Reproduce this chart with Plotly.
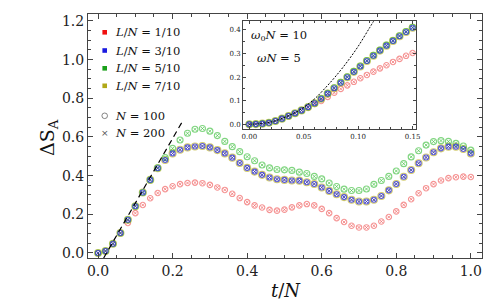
import plotly.graph_objects as go

# ---------------- data ----------------
t_main = [0.00, 0.02, 0.04, 0.06, 0.08, 0.10, 0.12, 0.14, 0.16, 0.18,
          0.20, 0.22, 0.24, 0.26, 0.28, 0.30, 0.32, 0.34, 0.36, 0.38,
          0.40, 0.42, 0.44, 0.46, 0.48, 0.50, 0.52, 0.54, 0.56, 0.58,
          0.60, 0.62, 0.64, 0.66, 0.68, 0.70, 0.72, 0.74, 0.76, 0.78,
          0.80, 0.82, 0.84, 0.86, 0.88, 0.90, 0.92, 0.94, 0.96, 0.98, 1.00]

s_L1 = [0.000, 0.010, 0.048, 0.103, 0.155, 0.206, 0.248, 0.283, 0.310, 0.330,
        0.345, 0.356, 0.362, 0.364, 0.361, 0.352, 0.339, 0.326, 0.306, 0.284,
        0.263, 0.246, 0.235, 0.223, 0.219, 0.224, 0.236, 0.246, 0.253, 0.246,
        0.228, 0.206, 0.180, 0.160, 0.141, 0.132, 0.132, 0.141, 0.163, 0.186,
        0.215, 0.249, 0.278, 0.309, 0.335, 0.356, 0.375, 0.387, 0.392, 0.395, 0.393]

s_L3 = [0.000, 0.010, 0.048, 0.103, 0.172, 0.242, 0.313, 0.378, 0.438, 0.481,
        0.515, 0.534, 0.546, 0.551, 0.553, 0.546, 0.532, 0.515, 0.493, 0.465,
        0.440, 0.421, 0.404, 0.390, 0.381, 0.378, 0.375, 0.374, 0.366, 0.357,
        0.339, 0.321, 0.304, 0.289, 0.275, 0.266, 0.266, 0.275, 0.295, 0.324,
        0.357, 0.394, 0.429, 0.464, 0.494, 0.521, 0.541, 0.550, 0.550, 0.538, 0.515]

s_L5 = [0.000, 0.010, 0.048, 0.103, 0.172, 0.242, 0.313, 0.378, 0.440, 0.493,
        0.541, 0.584, 0.619, 0.640, 0.644, 0.630, 0.607, 0.577, 0.550, 0.524,
        0.498, 0.477, 0.455, 0.440, 0.432, 0.430, 0.427, 0.418, 0.411, 0.396,
        0.383, 0.362, 0.344, 0.330, 0.323, 0.323, 0.331, 0.355, 0.375, 0.396,
        0.424, 0.462, 0.497, 0.529, 0.558, 0.576, 0.581, 0.577, 0.567, 0.553, 0.532]

s_L7 = [0.000, 0.010, 0.048, 0.103, 0.172, 0.242, 0.313, 0.378, 0.438, 0.481,
        0.515, 0.534, 0.546, 0.551, 0.553, 0.546, 0.532, 0.515, 0.493, 0.465,
        0.440, 0.421, 0.404, 0.390, 0.381, 0.378, 0.375, 0.374, 0.366, 0.357,
        0.339, 0.321, 0.304, 0.289, 0.275, 0.266, 0.266, 0.275, 0.295, 0.324,
        0.357, 0.394, 0.429, 0.464, 0.494, 0.521, 0.541, 0.550, 0.550, 0.538, 0.515]

# linear short-time reference line (main panel)
line_t = [0.015, 0.228]
line_s = [-0.026, 0.686]

# inset data
t_in = [0.000, 0.006, 0.012, 0.018, 0.024, 0.030, 0.036, 0.042, 0.048, 0.054,
        0.060, 0.066, 0.072, 0.078, 0.084, 0.090, 0.096, 0.102, 0.108, 0.114,
        0.120, 0.126, 0.132, 0.138, 0.144, 0.150]
in_L1 = [0.000, 0.001, 0.003, 0.007, 0.014, 0.024, 0.035, 0.046, 0.058, 0.071,
         0.086, 0.099, 0.116, 0.134, 0.150, 0.165, 0.180, 0.195, 0.209, 0.223,
         0.237, 0.250, 0.264, 0.277, 0.290, 0.302]
in_L3 = [0.000, 0.001, 0.003, 0.007, 0.014, 0.024, 0.035, 0.047, 0.059, 0.073,
         0.089, 0.108, 0.130, 0.153, 0.176, 0.199, 0.222, 0.245, 0.268, 0.290,
         0.312, 0.333, 0.353, 0.373, 0.391, 0.409]
in_L5 = [0.000, 0.001, 0.003, 0.007, 0.014, 0.024, 0.035, 0.047, 0.059, 0.073,
         0.089, 0.109, 0.131, 0.155, 0.178, 0.201, 0.224, 0.247, 0.270, 0.292,
         0.314, 0.335, 0.355, 0.375, 0.393, 0.411]
in_L7 = [0.000, 0.001, 0.003, 0.007, 0.014, 0.024, 0.035, 0.047, 0.059, 0.073,
         0.089, 0.108, 0.130, 0.153, 0.176, 0.199, 0.222, 0.245, 0.268, 0.290,
         0.312, 0.333, 0.353, 0.373, 0.391, 0.409]

# short-time reference curve (inset)
curve_t = [0.000, 0.020, 0.040, 0.050, 0.060, 0.070, 0.080, 0.090, 0.100, 0.110, 0.116]
curve_s = [0.000, 0.010, 0.045, 0.072, 0.108, 0.155, 0.207, 0.265, 0.330, 0.405, 0.450]

legend_labels = ["1/10", "3/10", "5/10", "7/10"]
n_labels = ["100", "200"]
tick_main_x = [0.0, 0.2, 0.4, 0.6, 0.8, 1.0]
tick_main_y = [0.0, 0.2, 0.4, 0.6, 0.8, 1.0, 1.2]
tick_in_x = [0.00, 0.05, 0.10, 0.15]
tick_in_y = [0.0, 0.1, 0.2, 0.3, 0.4]

# ---------------- styling ----------------
ring_col = {"1/10": "rgba(240,90,90,0.65)", "3/10": "rgba(50,50,210,0.8)",
            "5/10": "rgba(60,190,60,0.65)", "7/10": "rgba(195,185,60,0.75)"}
leg_col = {"1/10": "#f01010", "3/10": "#1a1ae0", "5/10": "#1aa01a", "7/10": "#b0a818"}
FONT = "DejaVu Serif"
W, H = 493, 300
L, R, T, B = 80, 474, 6, 250

def px(x):
    return (x - L) / (R - L)

def py(y):
    return (B - y) / (B - T)

fig = go.Figure()

series_main = {"1/10": s_L1, "3/10": s_L3, "5/10": s_L5, "7/10": s_L7}
series_in = {"1/10": in_L1, "3/10": in_L3, "5/10": in_L5, "7/10": in_L7}
order = ["1/10", "7/10", "5/10", "3/10"]
sizes = {"1/10": 5.5, "7/10": 7, "5/10": 6, "3/10": 5}

for key in order:
    for xs, ys, xa, ya in [(t_main, series_main[key], "x", "y"),
                           (t_in, series_in[key], "x2", "y2")]:
        fig.add_trace(go.Scatter(x=xs, y=ys, xaxis=xa, yaxis=ya, mode="markers",
                                 marker=dict(symbol="circle-open", size=sizes[key],
                                             color=ring_col[key], line=dict(width=1.1)),
                                 showlegend=False, hoverinfo="skip"))
        fig.add_trace(go.Scatter(x=xs, y=ys, xaxis=xa, yaxis=ya, mode="markers",
                                 marker=dict(symbol="x-thin-open", size=3.2,
                                             color=ring_col[key], line=dict(width=1)),
                                 showlegend=False, hoverinfo="skip"))

fig.add_trace(go.Scatter(x=line_t, y=line_s, mode="lines", xaxis="x", yaxis="y",
                         line=dict(color="black", width=1.2, dash="6px,4px"),
                         showlegend=False, hoverinfo="skip"))
fig.add_trace(go.Scatter(x=curve_t, y=curve_s, mode="lines", xaxis="x2", yaxis="y2",
                         line=dict(color="black", width=1, dash="2px,1.5px", shape="spline"),
                         showlegend=False, hoverinfo="skip"))

axis_common = dict(showline=True, linecolor="#444", linewidth=1, mirror="ticks",
                   ticks="inside", tickcolor="#444", showgrid=False, zeroline=False)

fig.update_layout(
    width=W, height=H,
    margin=dict(l=L, r=W - R, t=T, b=H - B),
    paper_bgcolor="white", plot_bgcolor="white",
    font=dict(family=FONT, color="#222"),
    xaxis=dict(**axis_common, range=[-0.027, 1.03], tickvals=tick_main_x,
               tickformat=".1f", ticklen=5, tickfont=dict(size=14, family=FONT),
               minor=dict(dtick=0.05, tick0=0, ticks="inside", ticklen=3, tickcolor="#444")),
    yaxis=dict(**axis_common, range=[-0.026, 1.236], tickvals=tick_main_y,
               tickformat=".1f", ticklen=5, tickfont=dict(size=14, family=FONT),
               minor=dict(dtick=0.05, tick0=0, ticks="inside", ticklen=3, tickcolor="#444")),
    xaxis2=dict(**axis_common, domain=[px(235), px(408.3)], anchor="y2",
                range=[-0.0058, 0.1534], tickvals=tick_in_x, tickformat=".2f",
                ticklen=3, tickfont=dict(size=7, family=FONT),
                minor=dict(dtick=0.01, tick0=0, ticks="inside", ticklen=2, tickcolor="#444")),
    yaxis2=dict(**axis_common, domain=[py(121.3), py(13.3)], anchor="x2",
                range=[-0.021, 0.436], tickvals=tick_in_y, tickformat=".1f",
                ticklen=3, tickfont=dict(size=7, family=FONT),
                minor=dict(dtick=0.05, tick0=0, ticks="inside", ticklen=2, tickcolor="#444")),
)

shapes = []
annotations = []
shapes.append(dict(type="rect", xref="paper", yref="paper", x0=px(235), x1=px(408.3),
                   y0=py(121.3), y1=py(13.3), fillcolor="white", line=dict(width=0),
                   layer="below"))

rows = [24.3, 42.5, 60.3, 77.8]
sq = 2.3
for lab, yy in zip(legend_labels, rows):
    shapes.append(dict(type="rect", xref="paper", yref="paper",
                       x0=px(96.7 - sq), x1=px(96.7 + sq), y0=py(yy + sq), y1=py(yy - sq),
                       fillcolor=leg_col[lab], line=dict(width=0)))
    annotations.append(dict(xref="paper", yref="paper", x=px(105), y=py(yy),
                            xanchor="left", yanchor="middle", showarrow=False,
                            text="<i>L</i>/<i>N</i> = " + lab,
                            font=dict(size=11.5, family=FONT, color="#111")))
shapes.append(dict(type="circle", xref="paper", yref="paper",
                   x0=px(96.7 - 2.8), x1=px(96.7 + 2.8), y0=py(107.8 + 2.8), y1=py(107.8 - 2.8),
                   line=dict(color="#666", width=0.8)))
annotations.append(dict(xref="paper", yref="paper", x=px(96.7), y=py(125.2),
                        xanchor="center", yanchor="middle", showarrow=False, text="×",
                        font=dict(size=9, family="DejaVu Sans", color="#555")))
for lab, yy in zip(n_labels, [107.8, 125.2]):
    annotations.append(dict(xref="paper", yref="paper", x=px(105), y=py(yy),
                            xanchor="left", yanchor="middle", showarrow=False,
                            text="<i>N</i> = " + lab,
                            font=dict(size=11.5, family=FONT, color="#111")))

annotations.append(dict(xref="paper", yref="paper", x=px(271), y=py(28),
                        xanchor="center", yanchor="middle", showarrow=False,
                        text="<i>ω</i><sub>0</sub><i>N</i> = 10",
                        font=dict(size=11.5, family=FONT, color="#111")))
annotations.append(dict(xref="paper", yref="paper", x=px(271), y=py(49.5),
                        xanchor="center", yanchor="middle", showarrow=False,
                        text="<i>ωN</i> = 5",
                        font=dict(size=11.5, family=FONT, color="#111")))

annotations.append(dict(xref="paper", yref="paper", x=px(40), y=py(130),
                        xanchor="center", yanchor="middle", showarrow=False,
                        text="ΔS<sub>A</sub>", textangle=-90,
                        font=dict(size=19, family=FONT, color="#111")))
annotations.append(dict(xref="paper", yref="paper", x=px(277.5), y=py(282),
                        xanchor="center", yanchor="middle", showarrow=False,
                        text="<i>t</i>/<i>N</i>",
                        font=dict(size=18, family=FONT, color="#111")))

fig.update_layout(shapes=shapes, annotations=annotations)
fig.write_html("out.html")
